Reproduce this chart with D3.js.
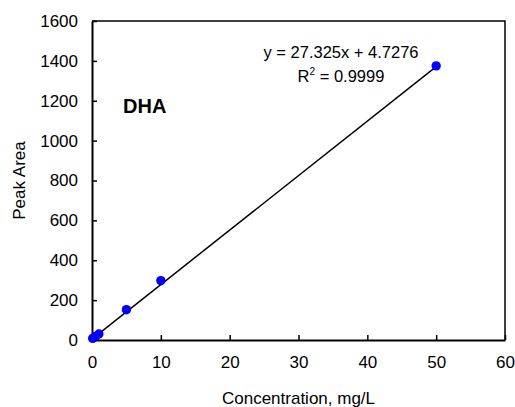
<!DOCTYPE html>
<html>
<head>
    <meta charset="utf-8" />
    <script src="https://d3js.org/d3.v7.min.js"></script>
    <style>
        body { margin: 0; background: #fff; }
        text { font-family: "Liberation Sans", Arial, sans-serif; fill: #000; }
    </style>
</head>
<body>
    <div id="chart"></div>
    <script>
        // data
        const concentration = [0.1, 0.5, 1, 5, 10, 50];
        const peakArea = [8, 18, 30, 152, 298, 1375];
        const xTicks = [0, 10, 20, 30, 40, 50, 60];
        const yTicks = [0, 200, 400, 600, 800, 1000, 1200, 1400, 1600];
        const slope = 27.325;
        const intercept = 4.7276;
        const fitRange = [0, 50];

        const svgWidth = 515;
        const svgHeight = 407;
        const margin = { top: 21, right: 10, bottom: 67, left: 92 };
        const chartWidth = svgWidth - margin.left - margin.right;
        const chartHeight = svgHeight - margin.top - margin.bottom;

        const svg = d3.select("#chart")
            .append("svg")
            .attr("width", svgWidth)
            .attr("height", svgHeight);

        const chart = svg.append("g")
            .attr("transform", `translate(${margin.left}, ${margin.top})`);

        // scales
        const xScale = d3.scaleLinear().domain([0, 60]).range([0, chartWidth]);
        const yScale = d3.scaleLinear().domain([0, 1600]).range([chartHeight, 0]);

        // frame (top + right)
        chart.append("path")
            .attr("d", `M0,0H${chartWidth}V${chartHeight}`)
            .attr("fill", "none")
            .attr("stroke", "#000")
            .attr("stroke-width", 1.5);

        // axes, ticks inside
        const xAxis = chart.append("g")
            .attr("transform", `translate(0, ${chartHeight})`)
            .call(d3.axisBottom(xScale).tickValues(xTicks).tickFormat(d3.format("d"))
                .tickSizeInner(-5).tickSizeOuter(0).tickPadding(16));
        const yAxis = chart.append("g")
            .call(d3.axisLeft(yScale).tickValues(yTicks).tickFormat(d3.format("d"))
                .tickSizeInner(-5).tickSizeOuter(0).tickPadding(14));

        [xAxis, yAxis].forEach(function (ax) {
            ax.select(".domain").attr("stroke", "#000").attr("stroke-width", 2);
            ax.selectAll(".tick line").attr("stroke", "#000").attr("stroke-width", 1.5);
            ax.selectAll(".tick text")
                .style("font-size", "17px")
                .style("font-family", '"Liberation Sans", Arial, sans-serif')
                .attr("fill", "#000");
        });

        // trendline
        chart.append("line")
            .attr("x1", xScale(fitRange[0]))
            .attr("y1", yScale(slope * fitRange[0] + intercept))
            .attr("x2", xScale(fitRange[1]))
            .attr("y2", yScale(slope * fitRange[1] + intercept))
            .attr("stroke", "#000")
            .attr("stroke-width", 1.5);

        // points
        chart.selectAll(".pt")
            .data(concentration)
            .enter().append("circle")
            .attr("class", "pt")
            .attr("cx", d => xScale(d))
            .attr("cy", (d, i) => yScale(peakArea[i]))
            .attr("r", 4.7)
            .attr("fill", "#0000ff");

        // annotations
        chart.append("text")
            .attr("x", 31)
            .attr("y", 92)
            .style("font-size", "20px")
            .style("font-weight", "bold")
            .text("DHA");

        chart.append("text")
            .attr("x", 249)
            .attr("y", 37)
            .style("font-size", "16.5px")
            .style("text-anchor", "middle")
            .text("y = 27.325x + 4.7276");

        const r2 = chart.append("text")
            .attr("x", 249)
            .attr("y", 61)
            .style("font-size", "16.5px")
            .style("text-anchor", "middle");
        r2.append("tspan").text("R");
        r2.append("tspan").attr("dy", -7).style("font-size", "10px").text("2");
        r2.append("tspan").attr("dy", 7).text(" = 0.9999");

        // labels
        chart.append("text")
            .attr("x", chartWidth / 2)
            .attr("y", chartHeight + 64)
            .style("text-anchor", "middle")
            .style("font-size", "17px")
            .text("Concentration, mg/L");

        chart.append("text")
            .attr("transform", "rotate(-90)")
            .attr("x", -chartHeight / 2)
            .attr("y", -67)
            .style("text-anchor", "middle")
            .style("font-size", "17px")
            .text("Peak Area");
    </script>
</body>
</html>
